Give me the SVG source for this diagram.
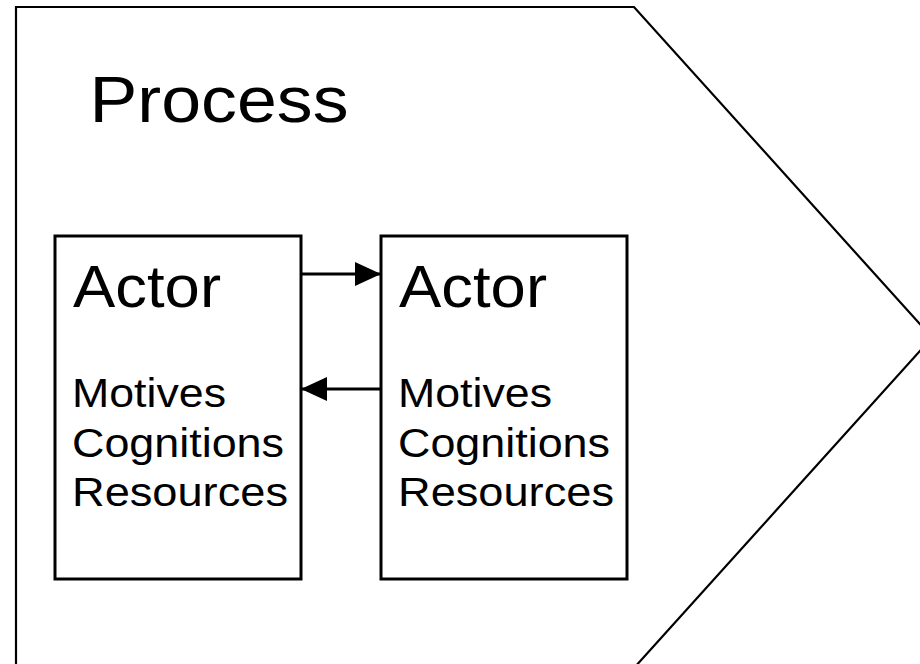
<svg xmlns="http://www.w3.org/2000/svg" width="920" height="664" viewBox="0 0 920 664">
<style>
.shape{fill:#fff;stroke:#000;stroke-width:2.2}
.box{fill:#fff;stroke:#000;stroke-width:3}
.t{font-family:"Liberation Sans",Arial,sans-serif;fill:#000}
.title{font-size:65px}
.actor{font-size:60px}
.item{font-size:40px}
.conn{stroke:#000;stroke-width:3;fill:none}
</style>
<defs>
<marker id="ah" viewBox="0 0 26 24" refX="26" refY="12" markerWidth="26" markerHeight="24" markerUnits="userSpaceOnUse" orient="auto">
<path d="M0,0 L26,12 L0,24 Z" fill="#000"/>
</marker>
</defs>
<g id="process">
<polygon class="shape" points="16,7 634,7 932,337.5 634,668 16,668"/>
<text class="t title" x="89.5" y="121.7" textLength="259" lengthAdjust="spacingAndGlyphs">Process</text>
</g>
<g id="actor1">
<rect class="box" x="55" y="236" width="246" height="343"/>
<text class="t actor" x="73" y="307" textLength="148" lengthAdjust="spacingAndGlyphs">Actor</text>
<text class="t item" x="72" y="407" textLength="154" lengthAdjust="spacingAndGlyphs">Motives</text>
<text class="t item" x="72" y="457" textLength="212" lengthAdjust="spacingAndGlyphs">Cognitions</text>
<text class="t item" x="72" y="506" textLength="216" lengthAdjust="spacingAndGlyphs">Resources</text>
</g>
<g id="actor2">
<rect class="box" x="381" y="236" width="246" height="343"/>
<text class="t actor" x="399" y="307" textLength="148" lengthAdjust="spacingAndGlyphs">Actor</text>
<text class="t item" x="398" y="407" textLength="154" lengthAdjust="spacingAndGlyphs">Motives</text>
<text class="t item" x="398" y="457" textLength="212" lengthAdjust="spacingAndGlyphs">Cognitions</text>
<text class="t item" x="398" y="506" textLength="216" lengthAdjust="spacingAndGlyphs">Resources</text>
</g>
<g id="connectors">
<line class="conn" x1="302" y1="274" x2="381" y2="274" marker-end="url(#ah)"/>
<line class="conn" x1="380" y1="389" x2="301" y2="389" marker-end="url(#ah)"/>
</g>
</svg>
